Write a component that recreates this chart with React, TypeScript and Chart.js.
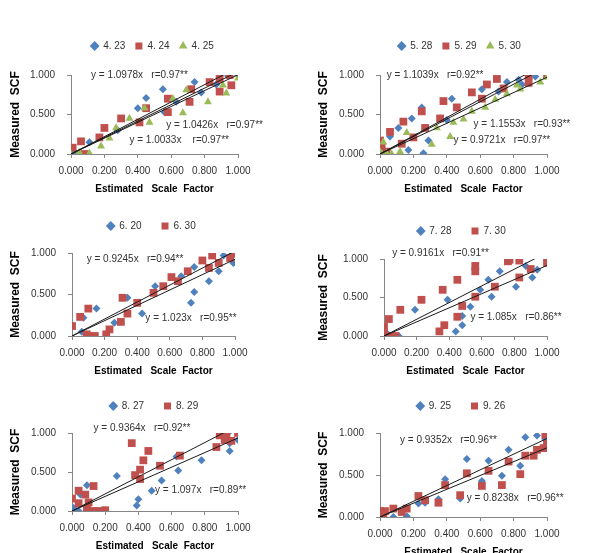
import React, { useEffect, useRef } from "react";
import { Chart, registerables } from "chart.js";

Chart.register(...registerables);
Chart.defaults.font.family = "'Liberation Sans', Arial, sans-serif";

type Pt = [number, number];

// ---- data: [estimated scale factor, measured SCF] ----
const s0423: Pt[] = [[0.02,0.03],[0.11,0.15],[0.28,0.30],[0.40,0.58],[0.45,0.71],[0.55,0.82],[0.56,0.53],[0.63,0.66],[0.74,0.91],[0.78,0.78],[0.87,0.88],[0.94,0.99],[1.0,1.0]];
const s0424: Pt[] = [[0.01,0.08],[0.06,0.16],[0.08,0.0],[0.17,0.21],[0.20,0.33],[0.30,0.45],[0.41,0.40],[0.45,0.58],[0.58,0.70],[0.58,0.53],[0.71,0.66],[0.72,0.82],[0.83,0.91],[0.89,0.79],[0.89,0.95],[0.95,1.0],[0.96,0.87]];
const s0425: Pt[] = [[0.0,0.0],[0.05,0.02],[0.11,0.01],[0.18,0.10],[0.23,0.20],[0.27,0.33],[0.35,0.45],[0.44,0.58],[0.47,0.40],[0.61,0.70],[0.67,0.52],[0.69,0.81],[0.82,0.66],[0.91,0.87],[0.93,0.77],[1.0,0.96]];

const s0528: Pt[] = [[0.0,0.03],[0.06,0.22],[0.11,0.33],[0.19,0.45],[0.25,0.59],[0.17,0.05],[0.26,0.01],[0.29,0.17],[0.40,0.43],[0.43,0.70],[0.61,0.82],[0.71,0.79],[0.76,0.91],[0.83,0.94],[0.85,0.88],[0.93,0.98]];
const s0529: Pt[] = [[0.0,0.17],[0.01,0.10],[0.04,0.03],[0.06,0.28],[0.13,0.13],[0.14,0.41],[0.20,0.21],[0.25,0.54],[0.27,0.33],[0.36,0.45],[0.38,0.67],[0.46,0.59],[0.55,0.78],[0.61,0.70],[0.64,0.88],[0.70,0.95],[0.74,0.83],[0.89,0.99],[0.89,0.90],[1.0,1.0]];
const s0530: Pt[] = [[0.0,0.03],[0.02,0.15],[0.04,0.01],[0.07,0.0],[0.12,0.03],[0.16,0.27],[0.31,0.12],[0.34,0.33],[0.42,0.22],[0.44,0.40],[0.50,0.44],[0.55,0.54],[0.63,0.59],[0.69,0.69],[0.76,0.76],[0.84,0.82],[0.82,0.87],[0.96,0.91],[1.0,0.97]];

const s0620: Pt[] = [[0.06,0.05],[0.07,0.22],[0.15,0.33],[0.26,0.16],[0.34,0.46],[0.43,0.27],[0.51,0.60],[0.67,0.72],[0.73,0.40],[0.75,0.53],[0.75,0.83],[0.84,0.66],[0.90,0.78],[0.93,0.97],[0.97,0.96],[0.99,0.88]];
const s0630: Pt[] = [[0.0,0.12],[0.05,0.23],[0.10,0.33],[0.09,0.02],[0.11,0.0],[0.14,0.0],[0.21,0.02],[0.23,0.08],[0.30,0.17],[0.31,0.46],[0.34,0.27],[0.40,0.40],[0.50,0.52],[0.56,0.60],[0.61,0.71],[0.65,0.66],[0.71,0.78],[0.80,0.91],[0.84,0.82],[0.86,0.97],[0.90,0.88],[0.97,0.94],[1.0,0.99]];

const s0728: Pt[] = [[0.02,0.03],[0.06,0.01],[0.09,0.0],[0.19,0.34],[0.39,0.47],[0.44,0.06],[0.48,0.14],[0.48,0.26],[0.53,0.38],[0.59,0.60],[0.64,0.73],[0.66,0.51],[0.71,0.84],[0.81,0.64],[0.87,0.91],[0.91,0.76],[0.94,0.86],[1.0,1.0]];
const s0730: Pt[] = [[0.0,0.12],[0.0,0.03],[0.03,0.22],[0.04,0.0],[0.07,0.0],[0.10,0.34],[0.23,0.47],[0.34,0.06],[0.37,0.14],[0.36,0.60],[0.45,0.73],[0.45,0.25],[0.48,0.39],[0.56,0.91],[0.56,0.84],[0.56,0.51],[0.68,0.64],[0.76,0.97],[0.77,0.99],[0.83,0.98],[0.83,0.76],[0.90,0.87],[1.0,0.95]];

const s0827: Pt[] = [[0.0,0.0],[0.01,0.04],[0.04,0.0],[0.05,0.21],[0.09,0.33],[0.27,0.45],[0.39,0.07],[0.40,0.15],[0.48,0.26],[0.54,0.39],[0.63,0.70],[0.64,0.52],[0.78,0.65],[0.94,1.0],[0.95,0.77],[0.95,0.87],[1.0,0.91]];
const s0829: Pt[] = [[0.0,0.16],[0.04,0.26],[0.04,0.10],[0.08,0.21],[0.10,0.11],[0.09,0.03],[0.13,0.32],[0.13,0.0],[0.16,0.0],[0.20,0.01],[0.36,0.87],[0.38,0.46],[0.41,0.53],[0.41,0.41],[0.43,0.65],[0.46,0.77],[0.53,0.58],[0.65,0.71],[0.87,0.82],[0.89,0.97],[0.93,0.95],[0.92,0.91],[0.96,0.90],[1.0,1.0]];

const s0925: Pt[] = [[0.01,0.06],[0.08,0.0],[0.16,0.01],[0.23,0.16],[0.27,0.17],[0.35,0.21],[0.39,0.45],[0.48,0.22],[0.52,0.69],[0.61,0.43],[0.65,0.67],[0.73,0.49],[0.77,0.80],[0.84,0.61],[0.87,0.95],[0.94,0.97],[0.99,0.93]];
const s0926: Pt[] = [[0.0,0.07],[0.02,0.0],[0.03,0.07],[0.08,0.10],[0.13,0.06],[0.16,0.10],[0.23,0.25],[0.27,0.20],[0.35,0.17],[0.39,0.38],[0.48,0.26],[0.52,0.52],[0.61,0.37],[0.65,0.55],[0.73,0.38],[0.77,0.66],[0.84,0.51],[0.87,0.73],[0.92,0.73],[0.94,0.80],[0.98,0.82],[0.99,0.98],[1.0,0.87]];

// trendline slopes (y = a x)
const slopesApr = [1.0978, 1.0426, 1.0033];
const slopesMay = [1.1039, 1.1553, 0.9721];
const slopesJun = [0.9245, 1.023];
const slopesJul = [0.9161, 1.085];
const slopesAug = [0.9364, 1.097];
const slopesSep = [0.9352, 0.8238];

// equation labels: [text, x, y] in data units
type Eq = [string, number, number];
const eqApr: Eq[] = [["y = 1.0978x   r=0.97**", 0.12, 1.0], ["y = 1.0426x   r=0.97**", 0.57, 0.37], ["y = 1.0033x    r=0.97**", 0.35, 0.18]];
const eqMay: Eq[] = [["y = 1.1039x   r=0.92**", 0.04, 1.0], ["y = 1.1553x   r=0.93**", 0.56, 0.38], ["y = 0.9721x   r=0.97**", 0.44, 0.18]];
const eqJun: Eq[] = [["y = 0.9245x   r=0.94**", 0.09, 0.93], ["y = 1.023x   r=0.95**", 0.45, 0.21]];
const eqJul: Eq[] = [["y = 0.9161x   r=0.91**", 0.05, 1.07], ["y = 1.085x   r=0.86**", 0.53, 0.24]];
const eqAug: Eq[] = [["y = 0.9364x   r=0.92**", 0.13, 1.06], ["y = 1.097x   r=0.89**", 0.50, 0.26]];
const eqSep: Eq[] = [["y = 0.9352x   r=0.96**", 0.12, 0.91], ["y = 0.8238x   r=0.96**", 0.52, 0.22]];

const xTickStep = 0.2;
const yTickStep = 0.5;
const xTitle = "Estimated   Scale  Factor";
const yTitle = "Measured  SCF";

const seriesStyles = [
  { color: "#4F81BD", pointStyle: "rectRot", radius: 4 },
  { color: "#C0504D", pointStyle: "rect", radius: 5.5 },
  { color: "#9BBB59", pointStyle: "triangle", radius: 4.6 },
];

type PanelCfg = {
  labels: string[];
  series: Pt[][];
  slopes: number[];
  eqs: Eq[];
  area: { l: number; r: number; t: number; b: number };
  legendY: number;
  center: number;
  left: number;
  gap: number;
};

const panels: PanelCfg[] = [
  { labels: ["4. 23", "4. 24", "4. 25"], series: [s0423, s0424, s0425], slopes: slopesApr, eqs: eqApr,
    area: { l: 71, r: 238, t: 75, b: 154 }, legendY: 46, center: 152.5, left: 0, gap: 10 },
  { labels: ["5. 28", "5. 29", "5. 30"], series: [s0528, s0529, s0530], slopes: slopesMay, eqs: eqMay,
    area: { l: 380, r: 547, t: 75, b: 154 }, legendY: 46, center: 459.5, left: 308, gap: 10 },
  { labels: ["6. 20", "6. 30"], series: [s0620, s0630], slopes: slopesJun, eqs: eqJun,
    area: { l: 72, r: 235, t: 253, b: 336 }, legendY: 226, center: 151.5, left: 0, gap: 20 },
  { labels: ["7. 28", "7. 30"], series: [s0728, s0730], slopes: slopesJul, eqs: eqJul,
    area: { l: 384, r: 547, t: 259, b: 336 }, legendY: 231, center: 461.5, left: 308, gap: 20 },
  { labels: ["8. 27", "8. 29"], series: [s0827, s0829], slopes: slopesAug, eqs: eqAug,
    area: { l: 72, r: 238, t: 433, b: 511 }, legendY: 406, center: 154, left: 0, gap: 20 },
  { labels: ["9. 25", "9. 26"], series: [s0925, s0926], slopes: slopesSep, eqs: eqSep,
    area: { l: 380, r: 547, t: 433, b: 517 }, legendY: 406, center: 461, left: 308, gap: 20 },
];

const eqPlugin = {
  id: "eqLabels",
  afterDatasetsDraw(chart: any, _args: any, opts: any) {
    const { ctx, scales } = chart;
    const xs = scales.x;
    const ys = scales.y;
    ctx.save();
    ctx.font = "10px 'Liberation Sans', Arial, sans-serif";
    ctx.fillStyle = "#333";
    ctx.textAlign = "left";
    ctx.textBaseline = "middle";
    for (const [text, x, y] of (opts.items || []) as Eq[]) {
      ctx.fillText(text, xs.getPixelForValue(x), ys.getPixelForValue(y));
    }
    ctx.restore();
  },
};

const X_AXIS_H = 41;

function Panel({ cfg }: { cfg: PanelCfg }) {
  const ref = useRef<HTMLCanvasElement | null>(null);
  const top = cfg.legendY - cfg.gap - 5;
  const width = Math.round(2 * (cfg.center - cfg.left));
  const height = cfg.area.b + X_AXIS_H - top;
  const rightSpace = cfg.left + width - cfg.area.r;
  const yAxisW = cfg.area.l - cfg.left;
  const spacer = cfg.area.t - cfg.legendY - 15;

  useEffect(() => {
    if (!ref.current) return;
    const n = cfg.series.length;
    const datasets: any[] = cfg.series.map((pts, i) => ({
      type: "scatter",
      label: cfg.labels[i],
      data: pts.map(([x, y]) => ({ x, y })),
      pointStyle: seriesStyles[i].pointStyle,
      pointRadius: seriesStyles[i].radius,
      backgroundColor: seriesStyles[i].color,
      borderColor: seriesStyles[i].color,
      borderWidth: 0,
      order: 10 - i,
    }));
    cfg.slopes.forEach((a, i) => {
      datasets.push({
        type: "line",
        label: "trend" + i,
        data: [{ x: 0, y: 0 }, { x: 1, y: a }],
        borderColor: "#1a1a1a",
        borderWidth: 1,
        pointRadius: 0,
        fill: false,
        order: 0,
      });
    });
    const fmt = (v: any) => Number(v).toFixed(3);
    const chart = new Chart(ref.current, {
      type: "scatter",
      data: { datasets },
      plugins: [eqPlugin as any],
      options: {
        responsive: false,
        animation: false,
        devicePixelRatio: 1,
        layout: { padding: 0 },
        plugins: {
          legend: {
            display: true,
            position: "top",
            labels: {
              usePointStyle: true,
              boxWidth: 7,
              boxHeight: 7,
              padding: cfg.gap,
              color: "#333",
              font: { size: 10 },
              filter: (it: any) => it.datasetIndex < n,
              sort: (a: any, b: any) => a.datasetIndex - b.datasetIndex,
            },
          },
          title: {
            display: true,
            text: "",
            weight: 100,
            padding: { top: 0, bottom: Math.max(0, spacer - 1) },
            font: { size: 1, lineHeight: 1 },
          } as any,
          tooltip: { enabled: false },
          eqLabels: { items: cfg.eqs },
        } as any,
        scales: {
          x: {
            type: "linear",
            min: 0,
            max: 1,
            ticks: { stepSize: xTickStep, callback: fmt, color: "#333", font: { size: 10 }, padding: 7, maxRotation: 0 },
            grid: { drawOnChartArea: false, drawTicks: true, tickLength: 4, color: "#868686" },
            border: { display: true, color: "#868686" },
            title: { display: true, text: xTitle, color: "#000", font: { size: 10, weight: "bold" }, padding: 0 },
            afterFit: (s: any) => { s.height = X_AXIS_H; },
          },
          y: {
            type: "linear",
            min: 0,
            max: 1,
            ticks: { stepSize: yTickStep, callback: fmt, color: "#333", font: { size: 10 }, padding: 12 },
            grid: { drawOnChartArea: false, drawTicks: true, tickLength: 4, color: "#868686" },
            border: { display: true, color: "#868686" },
            title: { display: true, text: yTitle, color: "#000", font: { size: 12, weight: "bold" }, padding: { top: 8, bottom: 0 } },
            afterFit: (s: any) => { s.width = yAxisW; },
          },
          yRightSpace: {
            type: "linear",
            position: "right",
            display: true,
            min: 0,
            max: 1,
            ticks: { display: false },
            grid: { display: false, drawTicks: false },
            border: { display: false },
            afterFit: (s: any) => { s.width = rightSpace; },
          },
        } as any,
      },
    } as any);
    return () => chart.destroy();
  }, []);

  return (
    <canvas
      ref={ref}
      width={width}
      height={height}
      style={{ position: "absolute", left: cfg.left, top, width, height }}
    />
  );
}

export default function App() {
  return (
    <div style={{ position: "absolute", left: 0, top: 0, width: 601, height: 553, background: "#fff", overflow: "hidden" }}>
      {panels.map((p, i) => (
        <Panel key={i} cfg={p} />
      ))}
    </div>
  );
}
